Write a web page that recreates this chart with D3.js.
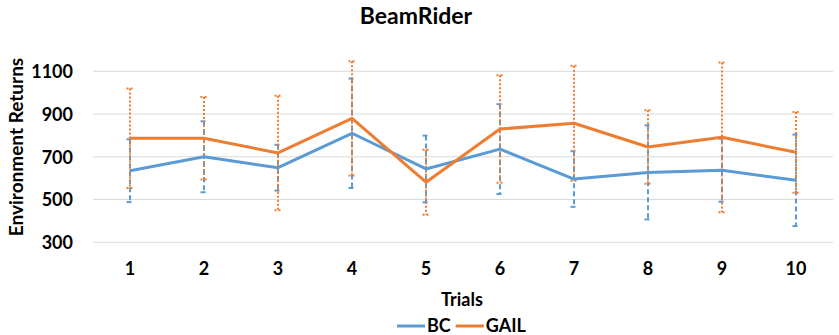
<!DOCTYPE html>
<html>
<head>
<meta charset="utf-8">
<script src="https://cdn.jsdelivr.net/npm/d3@7"></script>
<style>
  body { margin: 0; background: #fff; }
  text { font-family: Lato, "Open Sans", sans-serif; font-weight: bold; fill: #000; }
</style>
</head>
<body>
<script>
var width = 839;
var height = 335;

// data
var trials = [1, 2, 3, 4, 5, 6, 7, 8, 9, 10];
var bcMean = [635, 700, 649, 810, 643, 736, 596, 627, 637, 590];
var bcErr = [147, 166, 107, 256, 156, 210, 130, 220, 147, 214];
var gailMean = [787, 787, 718, 880, 581, 830, 857, 746, 791, 721];
var gailErr = [233, 193, 268, 267, 152, 252, 269, 172, 350, 189];
var yTicks = [300, 500, 700, 900, 1100];

var series = [
  {name: "BC", mean: bcMean, err: bcErr, color: "#5B9BD5", dash: "5,3"},
  {name: "GAIL", mean: gailMean, err: gailErr, color: "#ED7D31", dash: "2,2"}
];

var svg = d3.select("body").append("svg")
    .attr("width", width)
    .attr("height", height);

//scales
var x = d3.scaleBand().domain(trials).range([93, 833]);
var y = d3.scaleLinear().domain([300, 1200]).range([242.3, 49.9]);
var cx = function(t){ return x(t) + x.bandwidth()/2; };

//gridlines
svg.append("g").selectAll("line")
    .data(yTicks)
    .enter().append("line")
    .attr("x1", 93).attr("x2", 833)
    .attr("y1", function(d){ return y(d); })
    .attr("y2", function(d){ return y(d); })
    .attr("stroke", "#d9d9d9")
    .attr("stroke-width", 1);

//axes (labels only)
var yAxis = d3.axisLeft(y).tickValues(yTicks).tickFormat(d3.format("d")).tickSize(0).tickPadding(0);
svg.append("g")
    .attr("transform", "translate(73,0)")
    .call(yAxis)
    .call(function(g){ g.select(".domain").remove(); })
    .selectAll("text")
    .attr("dy", "0.35em")
    .style("font-size", "18px")
    .style("font-family", "Lato, sans-serif");

var xAxis = d3.axisBottom(x).tickSize(0).tickPadding(0);
svg.append("g")
    .attr("transform", "translate(0,262)")
    .call(xAxis)
    .call(function(g){ g.select(".domain").remove(); })
    .selectAll("text")
    .attr("dy", "0.71em")
    .style("font-size", "18px")
    .style("font-family", "Lato, sans-serif");

//error bars
series.forEach(function(s){
    var g = svg.append("g").attr("class", "err-" + s.name);
    trials.forEach(function(t, i){
        var top = s.mean[i] + s.err[i];
        var bot = s.mean[i] - s.err[i];
        g.append("line")
            .attr("x1", cx(t)).attr("x2", cx(t))
            .attr("y1", y(top)).attr("y2", y(bot))
            .attr("stroke", s.color)
            .attr("stroke-width", 2)
            .attr("stroke-dasharray", s.dash);
        [top, bot].forEach(function(v){
            g.append("line")
                .attr("x1", cx(t) - 3.5).attr("x2", cx(t) + 3.5)
                .attr("y1", y(v)).attr("y2", y(v))
                .attr("stroke", s.color)
                .attr("stroke-width", 2)
                .attr("stroke-dasharray", s.dash);
        });
    });
});

//series lines
var line = d3.line()
    .x(function(d){ return cx(d.t); })
    .y(function(d){ return y(d.v); });

series.forEach(function(s){
    svg.append("path")
        .datum(trials.map(function(t, i){ return {t: t, v: s.mean[i]}; }))
        .attr("d", line)
        .attr("fill", "none")
        .attr("stroke", s.color)
        .attr("stroke-width", 3)
        .attr("stroke-linejoin", "round");
});

//titles
svg.append("text")
    .attr("x", 416).attr("y", 24)
    .attr("text-anchor", "middle")
    .style("font-size", "23px")
    .text("BeamRider");

svg.append("text")
    .attr("transform", "translate(23,147) rotate(-90)")
    .attr("text-anchor", "middle")
    .style("font-size", "19px")
    .text("Environment Returns");

svg.append("text")
    .attr("x", 462).attr("y", 306)
    .attr("text-anchor", "middle")
    .style("font-size", "18px")
    .text("Trials");

//legend
var legend = svg.append("g").attr("transform", "translate(397,326)");
var lx = 0;
series.forEach(function(s){
    legend.append("line")
        .attr("x1", lx).attr("x2", lx + 28)
        .attr("y1", 0).attr("y2", 0)
        .attr("stroke", s.color)
        .attr("stroke-width", 3);
    var t = legend.append("text")
        .attr("x", lx + 30).attr("y", 6)
        .style("font-size", "18px")
        .text(s.name);
    lx += 30 + t.node().getComputedTextLength() + 5;
});
</script>
</body>
</html>
